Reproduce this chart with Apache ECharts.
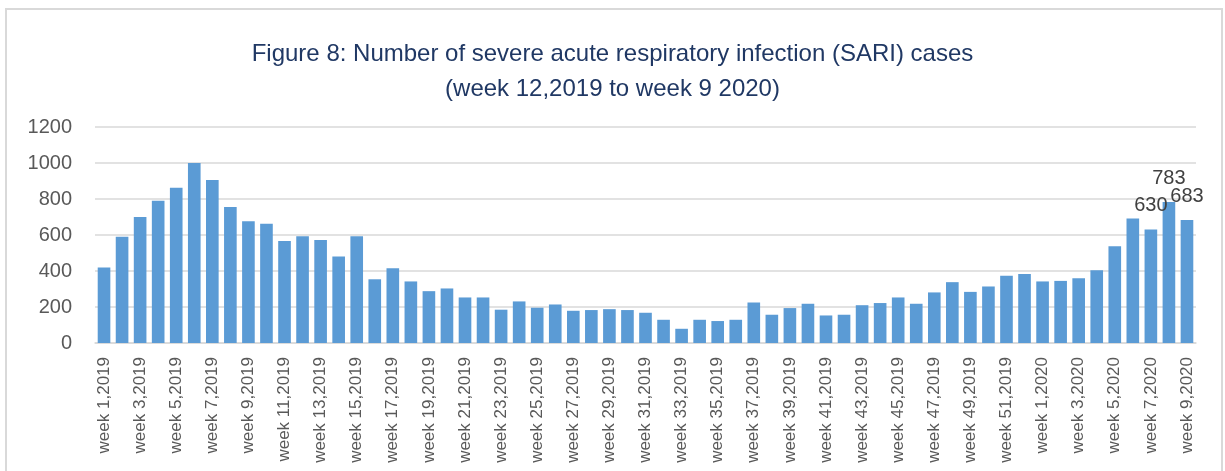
<!DOCTYPE html>
<html>
<head>
<meta charset="utf-8">
<script src="https://cdn.jsdelivr.net/npm/echarts@6/dist/echarts.min.js"></script>
<style>
  html, body { margin: 0; padding: 0; background: #fff; }
  #chart { width: 1225px; height: 471px; }
</style>
</head>
<body>
<div id="chart"></div>
<script>
// weeks 1-52 of 2019, then weeks 1-9 of 2020
const weeks = [];
for (let w = 1; w <= 52; w++) weeks.push('week ' + w + ',2019');
for (let w = 1; w <= 9; w++) weeks.push('week ' + w + ',2020');

// SARI cases per week
const cases2019 = [
    420, 590, 700, 790, 862, 1000, 905, 755, 677, 663,
    567, 593, 572, 480, 593, 354, 415, 342, 288, 303,
    253, 253, 185, 231, 196, 214, 179, 183, 188, 183,
    168, 129, 79, 129, 122, 129, 225, 157, 194, 218,
    153, 157, 210, 222, 253, 218, 281, 338, 284, 314,
    373, 384
];
const cases2020 = [342, 345, 360, 404, 537, 692, 630, 783, 683];
const cases = cases2019.concat(cases2020);

// only the last three bars carry a value label
const labelledIdx = [58, 59, 60];

const yTicks = { min: 0, max: 1200, interval: 200 };

const chart = echarts.init(document.getElementById('chart'));
chart.setOption({
    backgroundColor: '#fff',
    graphic: [{
        type: 'rect',
        shape: { x: 6, y: 9, width: 1216, height: 480 },
        style: { fill: 'none', stroke: '#d9d9d9', lineWidth: 2 },
        silent: true
    }],
    title: {
        text: 'Figure 8: Number of severe acute respiratory infection (SARI) cases\n(week 12,2019 to week 9 2020)',
        left: 'center',
        top: 32,
        textStyle: {
            fontFamily: 'Liberation Sans',
            fontWeight: 'normal',
            fontSize: 24,
            lineHeight: 35,
            color: '#203864'
        }
    },
    grid: { left: 95, right: 29, top: 127, bottom: 128, containLabel: false },
    xAxis: {
        type: 'category',
        data: weeks,
        axisTick: { show: false },
        axisLine: { lineStyle: { color: '#d9d9d9', width: 1.5 } },
        axisLabel: {
            interval: 1,
            rotate: 90,
            margin: 14,
            fontFamily: 'Liberation Sans',
            fontSize: 17,
            color: '#595959'
        }
    },
    yAxis: {
        type: 'value',
        min: yTicks.min,
        max: yTicks.max,
        interval: yTicks.interval,
        axisLine: { show: false },
        axisTick: { show: false },
        splitLine: { lineStyle: { color: '#d9d9d9', width: 1.5 } },
        axisLabel: {
            margin: 23,
            fontFamily: 'Liberation Sans',
            fontSize: 20,
            color: '#595959',
            formatter: v => String(v)
        }
    },
    series: [{
        type: 'bar',
        data: cases,
        barCategoryGap: '30%',
        itemStyle: { color: '#5b9bd5' },
        label: {
            show: true,
            position: 'top',
            distance: 14,
            fontFamily: 'Liberation Sans',
            fontSize: 20,
            color: '#404040',
            formatter: p => labelledIdx.includes(p.dataIndex) ? p.value : ''
        }
    }],
    animation: false
});
</script>
</body>
</html>
